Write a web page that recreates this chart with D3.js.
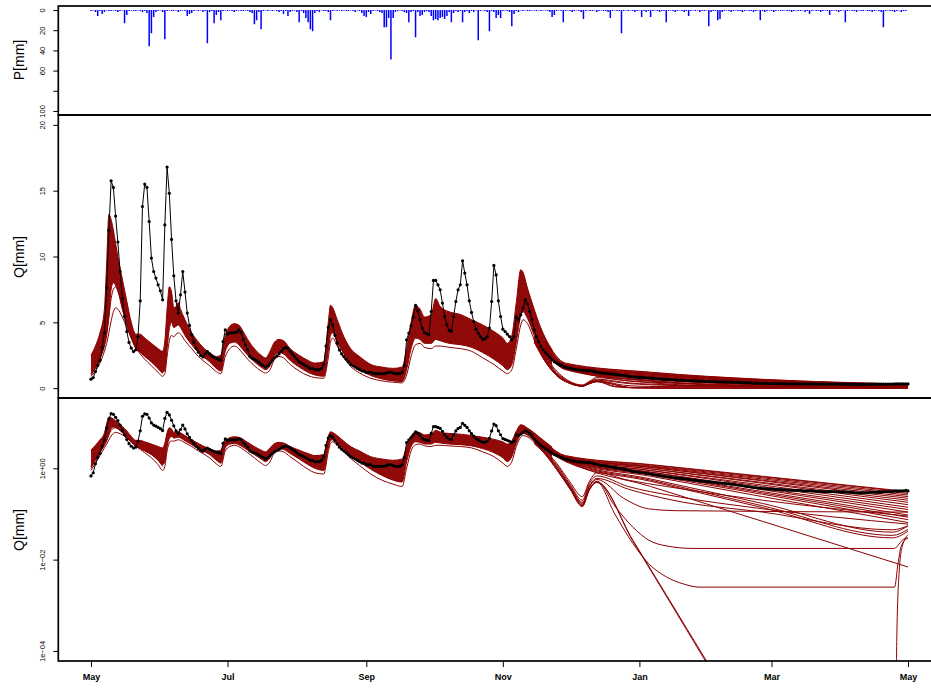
<!DOCTYPE html>
<html><head><meta charset="utf-8">
<script src="https://cdn.jsdelivr.net/npm/d3@7"></script>
<style>body{margin:0;background:#fff}svg{display:block}</style>
</head><body>
<svg id="c" width="931" height="689"></svg>
<script>
// ---------------- data ----------------
const startDay = "2010-05-01";
const xTickDates = ["2010-05-01","2010-07-01","2010-09-01","2010-11-01","2011-01-01","2011-03-01","2011-05-01"];
const xTickLabels = ["May","Jul","Sep","Nov","Jan","Mar","May"];
const pTicks = [0,20,40,60,80,100];
const pTickLabels = ["0","20","40","60","","100"];
const qTicks = [0,5,10,15,20];
const logTicks = [1,0.01,0.0001];
const logTickLabels = ["1e+00","1e\u221202","1e\u221204"];
const yTitles = ["P[mm]","Q[mm]","Q[mm]"];

// daily precipitation (mm), day 0 = 1 May
const precip = [
1,0.5,2,6,1,4,2,0.5,1,1,
0.5,1,2,1,0.5,13,5,1,0.5,1,
1,0.5,1,2,1,3,36,23,7,2,
1,0.5,2,29,1,0.5,1,1,0.5,2,
1,0.5,1,6,4,3,1,0.5,1,0.5,
2,1,33,2,1,13,5,2,10,1,
0.5,1,0.5,1,2,1,0.5,1,1,0.5,
1,2,3,14,10,2,19,1,0.5,1,
0.5,1,0.5,1,2,1,4,1,6,2,
1,0.5,2,12,1,3,8,12,19,21,
3,1,2,0.5,1,1,2,10,1,0.5,
1,0.5,1,0.5,1,1,0.5,1,2,0.5,
1,3,6,7,2,4,1,0.5,1,2,
3,17,17,8,49,8,2,1,0.5,1,
2,3,12,2,1,27,2,6,5,2,
1,2,6,10,9,10,8,7,9,6,
2,12,3,1,2,1,12,2,1,3,
1,2,0.5,30,1,0.5,1,2,21,1,
2,8,5,8,1,0.5,1,2,16,4,
1,2,0.5,1,0.5,1,1,0.5,0.5,1,
0.5,1,0.5,0.5,1,2,7,5,1,0.5,
1,12,1,0.5,1,2,1,0.5,1,2,
9,1,0.5,1,1,0.5,2,1,0.5,1,
1,2,8,1,0.5,1,1,23,1,0.5,
1,0.5,1,2,1,0.5,7,1,2,1,
7,1,0.5,1,2,1,1,12,1,0.5,
1,2,1,0.5,1,2,1,6,1,0.5,
1,0.5,2,1,1,0.5,16,2,1,1,
10,9,2,1,0.5,1,2,1,0.5,1,
1,2,1,0.5,1,1,2,1,0.5,10,
1,2,1,0.5,1,2,1,0.5,1,1,
0.5,1,1,2,1,0.5,1,1,0.5,2,
1,4,1,0.5,1,1,2,1,0.5,1,
5,1,0.5,1,2,1,0.5,12,1,0.5,
1,1,2,0.5,1,1,0.5,1,1,2,
1,0.5,1,2,17,1,0.5,1,1,2,
1,0.5,2,1,1];

// observed daily discharge (mm), day 0 = 1 May
const qObs = [
0.68,0.8,1.26,1.72,2.1,3.1,4.2,7.6,12.0,15.75,
15.25,13.07,11.1,8.86,6.79,5.44,4.3,3.47,3.04,2.78,
2.91,3.92,6.63,13.8,15.5,15.25,12.66,9.88,8.86,8.36,
7.85,7.39,6.71,12.4,16.8,14.8,11.3,8.53,6.63,5.7,
7.09,8.86,7.3,5.7,4.76,4.05,3.47,3.04,2.73,2.48,
2.36,2.6,2.78,2.6,2.45,2.33,2.25,2.18,2.1,3.54,
4.43,4.1,4.2,4.2,4.2,4.25,4.43,4.25,3.7,3.29,
2.91,2.4,2.27,2.18,2.1,1.97,1.8,1.72,1.6,1.72,
1.9,2.1,2.3,2.45,2.6,2.8,3.0,3.1,3.0,2.8,
2.6,2.4,2.2,2.0,1.9,1.8,1.7,1.6,1.5,1.5,
1.4,1.4,1.4,1.5,1.8,3.2,4.6,5.2,4.8,4.0,
3.4,2.9,2.6,2.4,2.2,2.0,1.8,1.7,1.6,1.5,
1.4,1.3,1.3,1.2,1.2,1.2,1.1,1.1,1.1,1.1,
1.1,1.1,1.15,1.2,1.2,1.15,1.1,1.1,1.1,1.2,
1.7,3.67,4.18,4.73,5.39,6.28,5.87,5.19,4.56,4.22,
4.13,4.05,5.82,8.18,8.18,7.85,7.47,6.46,5.44,4.81,
4.38,4.3,5.44,6.58,7.47,7.85,9.67,8.74,7.85,6.63,
5.75,5.06,4.48,4.18,3.92,3.72,3.74,3.92,4.56,6.58,
9.32,8.6,6.63,5.44,4.48,4.3,4.1,3.92,3.67,3.92,
5.39,5.2,5.57,6.08,6.71,6.4,5.82,5.19,4.43,3.92,
3.54,3.16,2.91,2.7,2.53,2.33,2.15,2.0,1.9,1.82,
1.74,1.66,1.6,1.55,1.5,1.46,1.43,1.4,1.38,1.36,
1.35,1.34,1.33,1.32,1.30,1.26,1.22,1.18,1.16,1.14,
1.12,1.10,1.08,1.06,1.04,1.02,1.0,0.98,0.96,0.94,
0.91,0.88,0.86,0.84,0.83,0.82,0.81,0.80,0.78,0.77,
0.76,0.74,0.72,0.71,0.70,0.68,0.67,0.66,0.65,0.64,
0.63,0.62,0.61,0.60,0.60,0.59,0.58,0.57,0.56,0.55,
0.55,0.54,0.53,0.53,0.52,0.51,0.51,0.50,0.50,0.49,
0.48,0.48,0.47,0.47,0.46,0.46,0.45,0.45,0.44,0.43,
0.43,0.42,0.41,0.40,0.40,0.39,0.38,0.38,0.37,0.37,
0.36,0.36,0.36,0.35,0.35,0.35,0.34,0.34,0.34,0.34,
0.34,0.33,0.33,0.33,0.33,0.33,0.33,0.33,0.32,0.32,
0.32,0.32,0.32,0.32,0.31,0.31,0.31,0.31,0.31,0.31,
0.31,0.31,0.31,0.31,0.31,0.30,0.30,0.30,0.30,0.30,
0.30,0.29,0.29,0.29,0.29,0.29,0.29,0.29,0.30,0.30,
0.30,0.30,0.30,0.30,0.31,0.31,0.31,0.31,0.31,0.32,
0.32,0.32,0.32,0.32,0.33,0.32];

// simulated ensemble: envelope of the dense band (days since 1 May)
const bandDays = [0,2,4,6,7,8,9,10,11,12,14,16,18,20,22,24,27,30,32,33,34,35,36,37,38,39,40,42,45,48,50,53,56,58,60,62,64,66,68,70,73,76,78,80,82,84,86,89,93,97,100,104,106,107,108,110,113,116,120,125,130,135,139,141,143,145,147,149,152,154,156,160,165,170,175,180,184,186,188,190,192,193,195,198,200,203,206];
const simHigh = [2.5,3.2,4.2,6.0,9.5,13.2,12.8,12.0,11.0,10.0, 8.3,6.6,5.0,4.1,4.1,3.8,3.4,3.0,2.8,3.6, 6.0,7.7,7.3,6.1,6.2,6.5,6.0,5.2,4.2,3.5, 3.1,2.7,2.4,2.5,4.0,4.7,4.9,4.8,4.3,3.7, 3.0,2.5,2.3,2.8,3.5,3.7,3.6,3.0,2.5,2.1, 1.9,2.0,5.0,6.3,6.1,5.2,3.9,3.0,2.4,1.8, 1.6,1.5,1.6,3.0,5.0,6.3,6.0,5.4,5.6,6.8, 6.2,5.8,5.6,5.2,4.8,4.3,3.8,3.4,4.0,6.5, 9.0,8.8,7.6,6.0,5.0,3.8,2.9];
const simLow = [1.0,1.5,2.2,3.2,4.0,5.5,7.5,8.0,7.8,7.4, 6.0,4.8,3.8,3.0,2.7,2.4,2.0,1.5,1.2,1.4, 3.0,4.5,5.0,4.6,4.7,4.8,4.6,4.0,3.3,2.7, 2.4,2.0,1.5,1.3,2.8,3.4,3.5,3.3,2.9,2.5, 2.0,1.6,1.4,1.7,2.5,2.7,2.6,2.1,1.6,1.2, 1.0,0.9,2.8,4.0,4.2,3.5,2.6,1.9,1.4,0.95, 0.7,0.55,0.5,1.4,3.0,3.8,3.7,3.4,3.4,3.7, 3.6,3.4,3.3,3.1,2.7,2.2,1.7,1.4,1.8,3.5, 5.5,5.8,5.3,4.0,3.2,2.4,1.7];
const simOut1 = [0.9,1.3,1.9,2.8,3.4,4.2,5.1,5.8,6.1,6.0, 5.4,4.6,3.8,3.1,2.6,2.2,1.7,1.2,0.9,1.1, 2.4,3.6,4.0,3.9,4.1,4.2,4.1,3.6,3.0,2.4, 2.1,1.7,1.25,1.1,2.4,3.0,3.2,3.0,2.6,2.2, 1.7,1.3,1.15,1.4,2.2,2.4,2.3,1.8,1.3,0.95, 0.8,0.75,2.3,3.5,3.8,3.2,2.3,1.65,1.15,0.75, 0.55,0.45,0.4,1.0,2.4,3.3,3.4,3.1,3.0,3.2, 3.2,3.1,3.0,2.8,2.3,1.8,1.3,1.1,1.4,3.0, 4.8,5.2,4.9,3.7,3.0,2.1,1.5];
const out2Days = [0,2,4,6,7,8,9,10,11,12,14,16,18,20,22,24,27,30,32];
const simOut2 = [1.1,1.6,2.3,3.3,4.2,5.4,6.8,7.5,7.7,7.4,6.2,5.0,3.9,3.2,2.9,2.5,2.0,1.5,1.1];

// recession fan of individual members: [day, Q]
const fanMain = [
[[203,3.7],[212,1.9],[250,1.21],[300,0.67],[365,0.31]],
[[203,3.6],[212,1.85],[250,1.18],[300,0.65],[365,0.30]],
[[203,3.5],[212,1.8],[250,1.13],[300,0.62],[365,0.28]],
[[203,3.4],[212,1.75],[250,1.09],[300,0.585],[365,0.26]],
[[203,3.3],[212,1.7],[250,1.05],[300,0.55],[365,0.24]],
[[203,3.4],[212,1.75],[250,1.05],[300,0.53],[365,0.22]],
[[203,3.2],[212,1.65],[250,0.98],[300,0.49],[365,0.20]],
[[203,3.3],[212,1.7],[250,0.97],[300,0.47],[365,0.18]],
[[203,3.1],[212,1.6],[250,0.90],[300,0.43],[365,0.16]],
[[203,3.2],[212,1.65],[250,0.89],[300,0.40],[365,0.14]],
[[203,3.0],[212,1.55],[250,0.83],[300,0.36],[365,0.125]],
[[203,3.1],[212,1.6],[250,0.82],[300,0.34],[365,0.11]],
[[203,2.9],[212,1.5],[250,0.76],[300,0.31],[365,0.095]],
[[203,3.0],[212,1.55],[250,0.75],[300,0.29],[365,0.085]],
[[203,2.9],[212,1.5],[250,0.71],[300,0.27],[365,0.075]],
[[203,2.8],[212,1.45],[250,0.67],[300,0.24],[365,0.065]],
[[203,2.9],[212,1.5],[250,0.585],[300,0.17],[358,0.04],[365,0.055]],
[[203,2.8],[212,1.45],[250,0.55],[300,0.151],[358,0.034],[365,0.046]],
[[203,2.7],[212,1.4],[250,0.52],[300,0.138],[358,0.03],[365,0.042]],
[[203,3.0],[212,1.55],[250,0.40],[300,0.069],[365,0.0069]]
];
const fanDip = [
[[198,3.9],[203,2.4],[208,1.3],[214,0.5],[219.5,0.24],[222.5,0.5],[226,0.8],[240,0.55],[257,0.4],[300,0.2],[365,0.09]],
[[198,3.8],[203,2.3],[208,1.2],[214,0.45],[219.5,0.2],[222.5,0.45],[226,0.68],[240,0.4],[260,0.25],[300,0.13],[365,0.06]],
[[198,3.7],[203,2.2],[208,1.1],[214,0.42],[219.5,0.18],[222.5,0.4],[226,0.6],[240,0.35],[260,0.2],[300,0.11],[358,0.045],[365,0.055]],
[[198,3.7],[203,2.2],[208,1.1],[214,0.4],[219.5,0.17],[222.5,0.38],[226,0.57],[238,0.22],[249,0.13],[262,0.118],[365,0.11]],
[[198,3.6],[203,2.1],[208,1.0],[214,0.38],[219.5,0.16],[222.5,0.35],[226,0.52],[234,0.15],[242,0.052],[249,0.027],[257,0.02],[269,0.0176],[359,0.0176],[361,0.022],[363,0.028],[365,0.03]],
[[198,3.6],[203,2.1],[208,1.0],[214,0.37],[219.5,0.15],[222.5,0.33],[226,0.5],[234,0.1],[242,0.023],[249,0.0083],[257,0.0042],[265,0.0029],[272,0.0025],[359,0.0025],[360.5,0.008],[362,0.02],[365,0.03]],
[[198,3.5],[203,2.0],[208,0.95],[214,0.36],[219.5,0.15],[222.5,0.33],[226,0.5],[242,0.027],[257,0.0017],[275,6e-5],[300,7e-7],[358,1e-9],[359.5,1e-6],[360,2e-4],[361,0.005],[362.5,0.02],[365,0.035]],
[[198,3.5],[203,2.0],[208,0.95],[214,0.35],[219.5,0.145],[222.5,0.325],[226,0.49],[242,0.026],[257,0.0016],[275,5.5e-5],[300,6e-7],[365,1e-10]]
];

// ---------------- drawing ----------------
const T0 = Date.parse(startDay + "T00:00:00Z");
const toDate = d => new Date(T0 + d * 864e5);
const L = 58.3, R = 940.7;
const FONT = "'Liberation Sans', Arial, Helvetica, sans-serif";
const RED = "#8b0000";

const x = d3.scaleUtc().domain([toDate(-14.6), toDate(379.6)]).range([L, R]);
const yP = d3.scaleLinear().domain([-4, 104]).range([6, 115]);
const yQ = d3.scaleLinear().domain([-0.75, 20.75]).range([398, 115]);
const yL = d3.scaleLog().domain([Math.pow(10, -4.22), Math.pow(10, 1.54)]).range([661, 398]);

const svg = d3.select("#c");
const defs = svg.append("defs");
const panelBox = [["cp",6,115],["cq",115,398],["cl",398,661]];
panelBox.forEach(([id,a,b]) => defs.append("clipPath").attr("id", id)
  .append("rect").attr("x", L).attr("y", a).attr("width", R - L).attr("height", b - a));

// precipitation bars
const gP = svg.append("g").attr("clip-path", "url(#cp)");
gP.selectAll("line").data(precip).join("line")
  .attr("x1", (d,i) => x(toDate(i))).attr("x2", (d,i) => x(toDate(i)))
  .attr("y1", yP(0)).attr("y2", d => yP(d))
  .attr("stroke", "#0000ff").attr("stroke-width", 1.5);

function drawQ(clipId, y) {
  const g = svg.append("g").attr("clip-path", `url(#${clipId})`);
  const band = bandDays.map((d,i) => ({d, lo: simLow[i], hi: simHigh[i]}));
  g.append("path").datum(band)
    .attr("d", d3.area().x(p => x(toDate(p.d))).y0(p => y(p.lo)).y1(p => y(p.hi)).curve(d3.curveMonotoneX))
    .attr("fill", RED).attr("fill-opacity", 0.96);
  const lg = d3.line().x(p => x(toDate(p[0]))).y(p => y(p[1])).curve(d3.curveMonotoneX);
  const series = [
    bandDays.map((d,i) => [d, simHigh[i]]),
    bandDays.map((d,i) => [d, simLow[i]]),
    bandDays.map((d,i) => [d, simOut1[i]]),
    out2Days.map((d,i) => [d, simOut2[i]]),
    ...fanMain, ...fanDip
  ];
  g.selectAll("path.sim").data(series).join("path").attr("class", "sim")
    .attr("d", lg).attr("fill", "none").attr("stroke", RED).attr("stroke-width", 1);
  const obs = qObs.map((v,i) => [i, v]);
  g.append("path").datum(obs)
    .attr("d", d3.line().x(p => x(toDate(p[0]))).y(p => y(p[1])))
    .attr("fill", "none").attr("stroke", "#000").attr("stroke-width", 1);
  g.selectAll("circle").data(obs).join("circle")
    .attr("cx", p => x(toDate(p[0]))).attr("cy", p => y(p[1])).attr("r", 1.6).attr("fill", "#000");
}
drawQ("cq", yQ);
drawQ("cl", yL);

// boxes
panelBox.forEach(([id,a,b]) => svg.append("rect").attr("x", L).attr("y", a)
  .attr("width", R - L).attr("height", b - a).attr("fill", "none")
  .attr("stroke", "#000").attr("stroke-width", 1.7));

// y axes
function yAxis(scale, vals, fmt) {
  const g = svg.append("g").attr("transform", `translate(${L},0)`)
    .call(d3.axisLeft(scale).tickValues(vals).tickFormat(fmt).tickSize(5));
  g.select(".domain").remove();
  g.selectAll(".tick line").attr("stroke", "#000");
  g.selectAll(".tick text").attr("x", 0).attr("y", -13).attr("dy", 0)
    .attr("transform", "rotate(-90)").attr("text-anchor", "middle")
    .attr("fill", "#000").style("font", `7.5px ${FONT}`);
}
yAxis(yP, pTicks, (d,i) => pTickLabels[i]);
yAxis(yQ, qTicks, d3.format("d"));
yAxis(yL, logTicks, (d,i) => logTickLabels[i]);

// x axis
const gx = svg.append("g").attr("transform", "translate(0,661)")
  .call(d3.axisBottom(x).tickValues(xTickDates.map(s => new Date(s + "T00:00:00Z")))
    .tickFormat((d,i) => xTickLabels[i]).tickSize(6));
gx.select(".domain").remove();
gx.selectAll(".tick line").attr("stroke", "#000");
gx.selectAll(".tick text").attr("y", 19).attr("dy", 0).attr("fill", "#000")
  .style("font", `bold 9px ${FONT}`);

// y titles
const titleY = [60, 257, 530];
yTitles.forEach((t,i) => svg.append("text")
  .attr("transform", `translate(24,${titleY[i]}) rotate(-90)`)
  .attr("text-anchor", "middle").style("font", `14px ${FONT}`).attr("fill", "#000").text(t));
</script>
</body></html>
